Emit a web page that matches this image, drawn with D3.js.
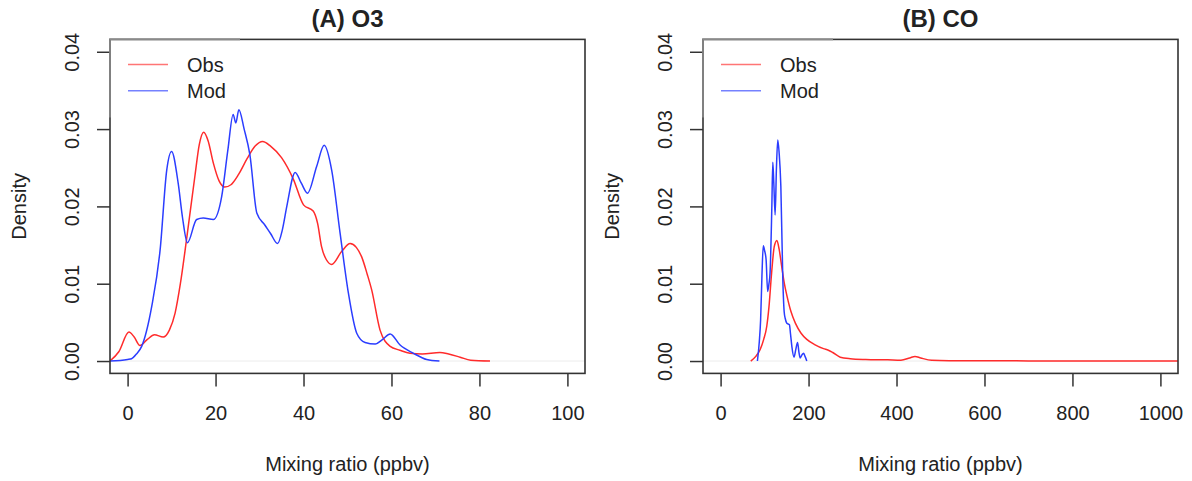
<!DOCTYPE html>
<html>
<head>
<meta charset="utf-8">
<script src="https://cdn.jsdelivr.net/npm/d3@7"></script>
<style>
  body { margin: 0; background: #fff; }
  svg text { font-family: "Liberation Sans", Arial, sans-serif; fill: #222; }
</style>
</head>
<body>
<div id="chart"></div>
<script>
// density curves: [mixing ratio, density]
const o3Obs = [[-4,0],[-2,0.0012],[0.3,0.00375],[1.5,0.0031],[2.8,0.0020],[4.5,0.0028],[6.1,0.0034],[8.1,0.0031],
  [9.5,0.0040],[10.8,0.0062],[12,0.0100],[13.4,0.0157],[15.3,0.0239],[16.3,0.0280],[17.3,0.0296],[18.3,0.0285],
  [19.5,0.0256],[20.8,0.0233],[22.1,0.0225],[23.5,0.0228],[25.2,0.0241],[27.2,0.0262],[29,0.0278],[30.7,0.0284],
  [32.5,0.0278],[35.0,0.0263],[37.7,0.0235],[40.0,0.0202],[42.2,0.0194],[43.2,0.0178],[44.1,0.0148],[45.2,0.0131],
  [46.4,0.0125],[48.7,0.0142],[50.6,0.0152],[52,0.0147],[53.2,0.0135],[54.5,0.0112],[55.5,0.0092],[57.4,0.0040],
  [59.7,0.0019],[61.9,0.0014],[64.2,0.0010],[67,0.0009],[71,0.0011],[73,0.0009],[75.6,0.0005],[78,0.0001],[82.4,0]];
const o3Mod = [[-4,0],[0,0.0002],[0.9,0.0003],[2,0.0009],[3.2,0.0019],[5.5,0.0071],[7.4,0.0144],[8.9,0.0247],
  [10,0.0271],[11.5,0.0230],[12.5,0.0185],[13.6,0.0153],[15.7,0.0183],[17.2,0.0185],[19.5,0.0183],[21.4,0.0213],
  [22.8,0.0273],[24.0,0.0319],[24.6,0.0308],[25.3,0.0325],[26.5,0.0300],[27.8,0.0267],[29.4,0.0191],[31.2,0.0176],
  [32.5,0.0165],[34.1,0.0152],[35.2,0.0170],[36.2,0.0200],[38.1,0.0244],[39.5,0.0230],[40.9,0.0217],[43.0,0.0252],
  [44.7,0.0279],[46.4,0.0247],[48.3,0.0166],[50.2,0.0088],[52.1,0.0036],[54.0,0.0024],[56.3,0.0022],[58,0.0028],
  [59.7,0.0035],[61.9,0.0021],[65.0,0.0010],[68.0,0.0002],[70.9,0]];
const coObs = [[68.6,0],[80,0.0006],[90,0.0015],[98,0.0028],[105,0.0045],[110,0.0070],[116,0.0114],[122,0.0148],
  [128,0.0156],[133,0.0145],[139,0.0122],[145,0.0100],[151,0.0084],[160,0.0064],[170,0.0049],[183,0.0036],
  [196,0.0028],[215,0.0021],[234,0.0016],[245,0.0014],[255,0.0011],[272,0.0005],[295,0.0003],[330,0.0002],
  [380,0.00015],[410,0.0001],[430,0.0004],[442,0.0006],[455,0.0004],[480,0.0001],[520,0.00005],[700,0.00002],[1040,0]];
const coMod = [[83.7,0],[88,0.0025],[91,0.0053],[94,0.0110],[97,0.0149],[100,0.0143],[103.5,0.0131],[107,0.0090],
  [110,0.0100],[112.5,0.0114],[116.4,0.0196],[118.7,0.0257],[121,0.0230],[124,0.0189],[127,0.0250],[130,0.0286],
  [133,0.0270],[137,0.0226],[141.5,0.0105],[144.5,0.0064],[147,0.0055],[150.6,0.0049],[156.5,0.0047],[159,0.0035],
  [162,0.0019],[167,0.0005],[171,0.0015],[175,0.0024],[178,0.0012],[181,0.0004],[185,0.0008],[188.5,0.0010],
  [192,0.0006],[196,0]];

const o3Ticks = [0, 20, 40, 60, 80, 100];
const coTicks = [0, 200, 400, 600, 800, 1000];
const densityTicks = [0, 0.01, 0.02, 0.03, 0.04];
const panelTitles = ["(A) O3", "(B) CO"];
const seriesNames = ["Obs", "Mod"];
const seriesColors = ["#ff2b2b", "#2b3dff"];
const xLabel = "Mixing ratio (ppbv)";
const yLabel = "Density";

const width = 1192, height = 481;
const svg = d3.select("#chart").append("svg")
  .attr("width", width)
  .attr("height", height);

function drawPanel(left, title, xTicks, obs, mod) {
  const right = left + 475, top = 39.4, bottom = 373.4;
  const xr = xTicks[xTicks.length - 1] - xTicks[0];
  // R style 4% padding around the limits
  const x = d3.scaleLinear()
    .domain([xTicks[0] - 0.04 * xr, xTicks[xTicks.length - 1] + 0.04 * xr])
    .range([left, right]);
  const y = d3.scaleLinear()
    .domain([-0.0016, 0.0416])
    .range([bottom, top]);

  const g = svg.append("g");

  const clipId = "clip" + left;
  g.append("clipPath").attr("id", clipId)
    .append("rect")
    .attr("x", left).attr("y", top)
    .attr("width", right - left).attr("height", bottom - top);

  // faint zero line
  g.append("line")
    .attr("x1", left).attr("x2", right)
    .attr("y1", y(0)).attr("y2", y(0))
    .attr("stroke", "#ececec")
    .attr("stroke-width", 1);

  // x axis
  const xAxis = g.append("g")
    .attr("transform", `translate(0,${bottom})`)
    .call(d3.axisBottom(x).tickValues(xTicks).tickSize(13).tickFormat(d3.format("d")));
  xAxis.select(".domain").remove();
  xAxis.selectAll("line").attr("stroke", "#333").attr("stroke-width", 1.5);
  xAxis.selectAll("text").attr("font-size", "20px").attr("fill", "#222").attr("dy", null)
    .attr("y", 47);

  // y axis with rotated labels
  const yAxis = g.append("g")
    .attr("transform", `translate(${left},0)`)
    .call(d3.axisLeft(y).tickValues(densityTicks).tickSize(13).tickFormat(d3.format(".2f")));
  yAxis.select(".domain").remove();
  yAxis.selectAll("line").attr("stroke", "#333").attr("stroke-width", 1.5);
  yAxis.selectAll("text")
    .attr("font-size", "20px").attr("fill", "#222")
    .attr("x", null).attr("dy", null)
    .attr("text-anchor", "middle")
    .attr("transform", "translate(-31,0) rotate(-90)");

  // curves
  const line = d3.line()
    .x(d => x(d[0]))
    .y(d => y(d[1]))
    .curve(d3.curveMonotoneX);

  [obs, mod].forEach((s, i) => {
    g.append("path")
      .datum(s)
      .attr("clip-path", `url(#${clipId})`)
      .attr("fill", "none")
      .attr("stroke", seriesColors[i])
      .attr("stroke-width", 1.5)
      .attr("d", line);
  });

  // box
  g.append("rect")
    .attr("x", left).attr("y", top)
    .attr("width", right - left).attr("height", bottom - top)
    .attr("fill", "none")
    .attr("stroke", "#333")
    .attr("stroke-width", 1.6);
  // lighter corner where the legend sits
  g.append("path")
    .attr("d", `M${left},${top + 78}V${top}H${left + 130}`)
    .attr("fill", "none")
    .attr("stroke", "#8a8a8a")
    .attr("stroke-width", 1.6);

  // legend
  seriesNames.forEach((name, i) => {
    const ly = 64.5 + i * 26.3;
    g.append("line")
      .attr("x1", left + 18).attr("x2", left + 58)
      .attr("y1", ly).attr("y2", ly)
      .attr("stroke", seriesColors[i])
      .attr("stroke-opacity", 0.65)
      .attr("stroke-width", 1.5);
    g.append("text")
      .attr("x", left + 77).attr("y", ly + 7)
      .attr("font-size", "20px")
      .text(name);
  });

  // labels
  g.append("text")
    .attr("x", (left + right) / 2).attr("y", 27)
    .attr("text-anchor", "middle")
    .attr("font-size", "24px")
    .attr("font-weight", "bold")
    .attr("fill", "#111")
    .text(title);

  g.append("text")
    .attr("x", (left + right) / 2).attr("y", 471)
    .attr("text-anchor", "middle")
    .attr("font-size", "20px")
    .text(xLabel);

  g.append("text")
    .attr("transform", `translate(${left - 84},${(top + bottom) / 2}) rotate(-90)`)
    .attr("text-anchor", "middle")
    .attr("font-size", "20px")
    .text(yLabel);
}

drawPanel(110, panelTitles[0], o3Ticks, o3Obs, o3Mod);
drawPanel(703, panelTitles[1], coTicks, coObs, coMod);
</script>
</body>
</html>
